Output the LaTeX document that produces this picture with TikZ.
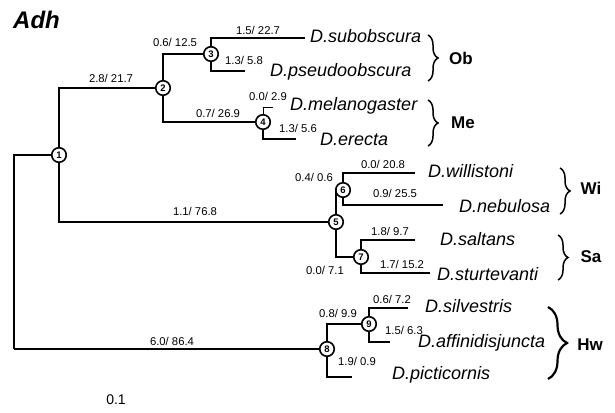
\documentclass[tikz,border=0pt]{standalone}
\usepackage{fontspec}
\setmainfont{Liberation Sans}
\usetikzlibrary{decorations.pathreplacing}
\begin{document}
\begin{tikzpicture}[x=1pt,y=-1pt,
  inode/.style={circle,draw,line width=1.6pt,fill=white,inner sep=0pt,minimum size=14.5pt,font=\fontsize{9.5}{9.5}\selectfont\bfseries},
  sp/.style={anchor=base west,font=\fontsize{18}{18}\selectfont\itshape,inner sep=0pt},
  bl/.style={font=\fontsize{11.3}{11.3}\selectfont,inner sep=0pt},
  grp/.style={font=\fontsize{17}{17}\selectfont\bfseries,inner sep=0pt},
  thinb/.style={line width=1pt},
  medb/.style={line width=1.5pt},
  thickb/.style={line width=2.3pt},
  grpbrace/.style={decorate,decoration={brace,amplitude=#1},line width=1.5pt}
]
\useasboundingbox (0,0) rectangle (615,412);

% title
\node[font=\fontsize{24}{24}\selectfont\bfseries\itshape,anchor=base west,inner sep=0pt] (title) at (13,29) {Adh};

% internal nodes
\node[inode] (n1) at (59,155) {1};
\node[inode] (n2) at (163,88) {2};
\node[inode] (n3) at (211,54) {3};
\node[inode] (n4) at (263,122) {4};
\node[inode] (n5) at (336,222) {5};
\node[inode] (n6) at (343,190) {6};
\node[inode] (n7) at (361,257) {7};
\node[inode] (n8) at (327,349) {8};
\node[inode] (n9) at (369,324) {9};

% root and leaf ends
\coordinate (r) at (14,155);
\coordinate (rb) at (14,349);
\coordinate (l1) at (305,38);
\coordinate (l2) at (245,71);
\coordinate (l3) at (273,107);
\coordinate (l4) at (296,139);
\coordinate (l5) at (415,173);
\coordinate (l6) at (443,205);
\coordinate (l7) at (415,240);
\coordinate (l8) at (430,273);
\coordinate (l9) at (408,308);
\coordinate (l10) at (390,342);
\coordinate (l11) at (352,377);

% branches
\draw[medb] (n1) -- (r) -- (rb);
\draw[thickb] (rb) -- (n8);
\draw[medb] (n1) |- (n2);
\draw[medb] (n1) |- (n5);
\draw[medb] (n2) |- (n3);
\draw[thickb] (n2 |- n3) -- (n3);
\draw[medb] (n2) |- (n4);
\draw[thickb] (n2 |- n4) -- (n4);
\draw[medb] (n3) |- (l1);
\draw[thinb] (n3 |- l1) -- (l1);
\draw[medb] (n3) |- (l2);
\draw[thickb] (n3 |- l2) -- (l2);
\draw[thinb] (n4) |- (l3);
\draw[medb] (n4) |- (l4);
\draw[thickb] (n4 |- l4) -- (l4);
\draw[medb] (n5) |- (n6);
\draw[medb] (n5) |- (n7);
\draw[medb] (n6) |- (l5);
\draw[thinb] (n6 |- l5) -- (l5);
\draw[medb] (n6) |- (l6);
\draw[thickb] (n6 |- l6) -- (l6);
\draw[medb] (n7) |- (l7);
\draw[medb] (n7) |- (l8);
\draw[thickb] (n7 |- l8) -- (l8);
\draw[medb] (n8) |- (n9);
\draw[medb] (n8) |- (l11);
\draw[thickb] (n8 |- l11) -- (l11);
\draw[medb] (n9) |- (l9);
\draw[thickb] (n9 |- l9) -- (l9);
\draw[medb] (n9) |- (l10);

% branch labels
\node[bl] (b12) at (111,78) {2.8/ 21.7};
\node[bl] (b23) at (175,42) {0.6/ 12.5};
\node[bl] (b3a) at (258,30) {1.5/ 22.7};
\node[bl] (b3b) at (244,60) {1.3/ 5.8};
\node[bl] (b24) at (218,113) {0.7/ 26.9};
\node[bl] (b4a) at (268,96) {0.0/ 2.9};
\node[bl] (b4b) at (298,128) {1.3/ 5.6};
\node[bl] (b15) at (195,211) {1.1/ 76.8};
\node[bl] (b56) at (314,177) {0.4/ 0.6};
\node[bl] (b6a) at (383,164) {0.0/ 20.8};
\node[bl] (b6b) at (395,193) {0.9/ 25.5};
\node[bl] (b7a) at (390,231) {1.8/ 9.7};
\node[bl] (b7b) at (402,264) {1.7/ 15.2};
\node[bl] (b57) at (325,270) {0.0/ 7.1};
\node[bl] (b9a) at (392,299) {0.6/ 7.2};
\node[bl] (b89) at (338,313) {0.8/ 9.9};
\node[bl] (b9b) at (404,330) {1.5/ 6.3};
\node[bl] (b8a) at (357,361) {1.9/ 0.9};
\node[bl] (b18) at (172,341) {6.0/ 86.4};
\node[font=\fontsize{14}{14}\selectfont,inner sep=0pt] (scale) at (116,400) {0.1};

% species
\node[sp] (s1) at (310,43) {D.subobscura};
\node[sp] (s2) at (270,77) {D.pseudoobscura};
\node[sp] (s3) at (290,110) {D.melanogaster};
\node[sp] (s4) at (320,145) {D.erecta};
\node[sp] (s5) at (428,177) {D.willistoni};
\node[sp] (s6) at (459,212) {D.nebulosa};
\node[sp] (s7) at (440,245) {D.saltans};
\node[sp] (s8) at (437,280) {D.sturtevanti};
\node[sp] (s9) at (425,312) {D.silvestris};
\node[sp] (s10) at (418,347) {D.affinidisjuncta};
\node[sp] (s11) at (392,379) {D.picticornis};

% groups
\draw[grpbrace=10pt] (428,35) -- (428,81);
\node[grp] (gOb) at (461,58) {Ob};
\draw[grpbrace=10pt] (428,100) -- (428,146);
\node[grp] (gMe) at (463,123) {Me};
\draw[grpbrace=10pt] (560,168) -- (560,214);
\node[grp] (gWi) at (591,188) {Wi};
\draw[grpbrace=10pt] (558,235) -- (558,280);
\node[grp] (gSa) at (591,257) {Sa};
\draw[grpbrace=19pt,line width=2.2pt] (548,307) -- (548,379);
\node[grp] (gHw) at (590,345) {Hw};
\end{tikzpicture}
\end{document}
